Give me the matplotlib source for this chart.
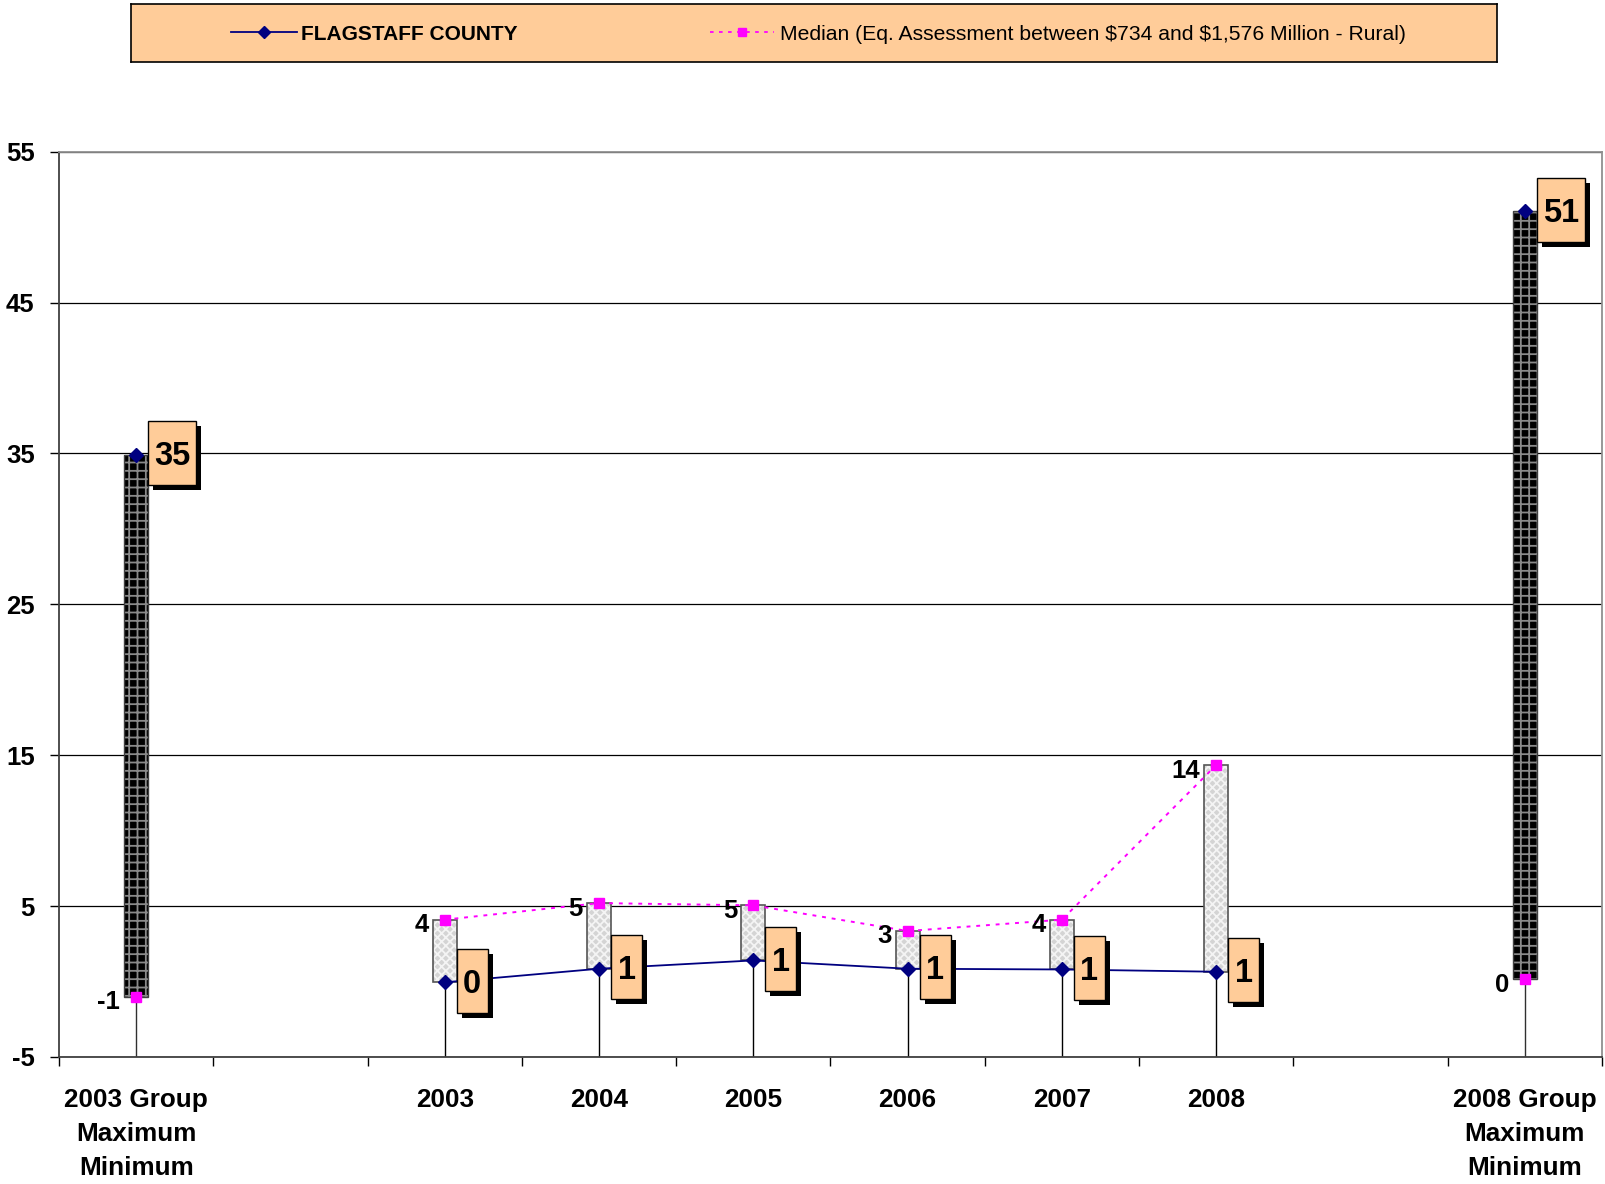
import matplotlib
matplotlib.use("Agg")
import matplotlib.pyplot as plt
from matplotlib.patches import Rectangle

plt.rcParams['font.family'] = ['Liberation Sans', 'DejaVu Sans']
plt.rcParams['hatch.linewidth'] = 1.3
plt.rcParams['text.parse_math'] = False

# ---------------- data ----------------
years = ['2003', '2004', '2005', '2006', '2007', '2008']
county = [-0.05, 0.85, 1.4, 0.85, 0.8, 0.65]
median = [4.1, 5.2, 5.05, 3.35, 4.1, 14.35]

group_labels = ['2003 Group\nMaximum\nMinimum', '2008 Group\nMaximum\nMinimum']
group_max = [34.9, 51.05]
group_min = [-1.0, 0.15]

series_names = ['FLAGSTAFF COUNTY',
                'Median (Eq. Assessment between $734 and $1,576 Million - Rural)']

# slot layout: 10 slots, groups in first/last, years in slots 2..7
year_pos = [2.5 + i for i in range(len(years))]
group_pos = [0.5, 9.5]

ORANGE = '#FFCC99'
NAVY = '#000080'
MAGENTA = '#FF00FF'

W, H = 1606, 1184
fig = plt.figure(figsize=(W / 100, H / 100), dpi=100)

ax = fig.add_axes([59 / W, (H - 1057) / H, (1602 - 59) / W, (1057 - 151.6) / H])
ax.set_xlim(0, 10)
ax.set_ylim(-5, 55)

bw = 0.156
ymin = -5

# drop lines
for x, a, b in zip(year_pos, county, median):
    ax.plot([x, x], [ymin, min(a, b)], color='black', lw=1.0, zorder=1.5)
for x, a, b in zip(group_pos, group_max, group_min):
    ax.plot([x, x], [ymin, min(a, b)], color='#303030', lw=1.0, zorder=1.5)

# grey hi-lo boxes between county and median
lo = [min(a, b) for a, b in zip(county, median)]
hi = [max(a, b) for a, b in zip(county, median)]
ax.bar(year_pos, [h - l for h, l in zip(hi, lo)], bottom=lo, width=bw,
       color='#d4d4d4', edgecolor='#f4f4f4', hatch='xxxx', linewidth=0, zorder=2)
ax.bar(year_pos, [h - l for h, l in zip(hi, lo)], bottom=lo, width=bw,
       fill=False, edgecolor='#555555', linewidth=1.2, zorder=2.1)

# dark group bars
ax.bar(group_pos, [a - b for a, b in zip(group_max, group_min)], bottom=group_min, width=bw,
       color='black', edgecolor='#8a8a8a', hatch='++', linewidth=0, zorder=2)
ax.bar(group_pos, [a - b for a, b in zip(group_max, group_min)], bottom=group_min, width=bw,
       fill=False, edgecolor='#404040', linewidth=1.0, zorder=2.1)

# series lines
ax.plot(year_pos, county, color=NAVY, lw=1.3, marker='D', markersize=7,
        markerfacecolor=NAVY, markeredgecolor=NAVY, zorder=3)
ax.plot(year_pos, median, color=MAGENTA, lw=1.4, ls=(0, (2, 3)), marker='s', markersize=7,
        markerfacecolor=MAGENTA, markeredgecolor=MAGENTA, zorder=3)
ax.plot(group_pos, group_max, ls='none', marker='D', markersize=7,
        markerfacecolor=NAVY, markeredgecolor=NAVY, zorder=3)
ax.plot(group_pos, group_min, ls='none', marker='s', markersize=7,
        markerfacecolor=MAGENTA, markeredgecolor=MAGENTA, zorder=3)

# label helpers
px_x = 10 / (1602 - 59)           # data units per pixel in x
px_y = 60 / (1057 - 151.6)        # data units per pixel in y


def orange_label(x, v):
    s = str(int(round(v)))
    w = (14 + 17 * len(s)) * px_x
    h = 64 * px_y
    x0 = x + bw / 2
    y0 = v - h / 2 + 1.5 * px_y
    ax.add_patch(Rectangle((x0 + 5 * px_x, y0 - 5 * px_y), w, h, facecolor='black',
                           edgecolor='black', lw=0, zorder=4))
    ax.add_patch(Rectangle((x0, y0), w, h, facecolor=ORANGE, edgecolor='black',
                           lw=1.0, zorder=4.1))
    ax.text(x0 + w / 2, y0 + h / 2, s, ha='center', va='center_baseline',
            fontsize=23.5, fontweight='bold', zorder=4.2)


def plain_label(x, v):
    s = str(int(round(v)))
    ax.text(x - bw / 2 - 4 * px_x, v - 3 * px_y, s, ha='right', va='center_baseline',
            fontsize=18.5, fontweight='bold', zorder=4.2)


for x, c, m in zip(year_pos, county, median):
    orange_label(x, c)
    plain_label(x, m)
for x, a, b in zip(group_pos, group_max, group_min):
    orange_label(x, a)
    plain_label(x, b)

# axes styling
ax.set_yticks(range(-5, 56, 10))
ax.set_yticklabels([str(v) for v in range(-5, 56, 10)])
ax.yaxis.grid(True, color='black', lw=0.9)
ax.set_axisbelow(True)
ax.tick_params(axis='y', direction='out', length=6.5, width=1, pad=11,
               labelsize=18.5)
for lab in ax.get_yticklabels():
    lab.set_fontweight('bold')

ax.set_xticks(range(0, 11))
ax.set_xticklabels([])
ax.set_xticks(group_pos[:1] + year_pos + group_pos[1:], minor=True)
ax.set_xticklabels([group_labels[0]] + years + [group_labels[1]], minor=True,
                   fontsize=18.8, fontweight='bold', linespacing=1.53)
ax.tick_params(axis='x', which='major', direction='out', length=6.5, width=1)
ax.tick_params(axis='x', which='minor', length=0, pad=22)

ax.spines['left'].set_color('#404040')
ax.spines['bottom'].set_color('#404040')
ax.spines['left'].set_linewidth(1.3)
ax.spines['bottom'].set_linewidth(1.3)
ax.spines['top'].set_color('#909090')
ax.spines['right'].set_color('#909090')
ax.spines['top'].set_linewidth(1.3)
ax.spines['right'].set_linewidth(1.3)

# ---------------- legend box ----------------
lx0, ly0, lx1, ly1 = 131, 4, 1497, 62
lax = fig.add_axes([lx0 / W, (H - ly1) / H, (lx1 - lx0) / W, (ly1 - ly0) / H])
lax.set_facecolor(ORANGE)
lax.set_xlim(0, lx1 - lx0)
lax.set_ylim(ly1 - ly0, 0)
lax.set_xticks([])
lax.set_yticks([])
for sp in lax.spines.values():
    sp.set_color('black')
    sp.set_linewidth(1.2)
yc = 28
lax.plot([100, 166], [yc, yc], color=NAVY, lw=1.3)
lax.plot([133], [yc], marker='D', markersize=6, color=NAVY)
lax.text(170, yc, series_names[0], ha='left', va='center_baseline', fontsize=15,
         fontweight='bold')
lax.plot([579, 643], [yc, yc], color=MAGENTA, lw=1.3, ls=(0, (2, 3)))
lax.plot([611], [yc], marker='s', markersize=6, color=MAGENTA)
lax.text(649, yc, series_names[1], ha='left', va='center_baseline', fontsize=15.2)

fig.savefig('out.png', dpi=100)
